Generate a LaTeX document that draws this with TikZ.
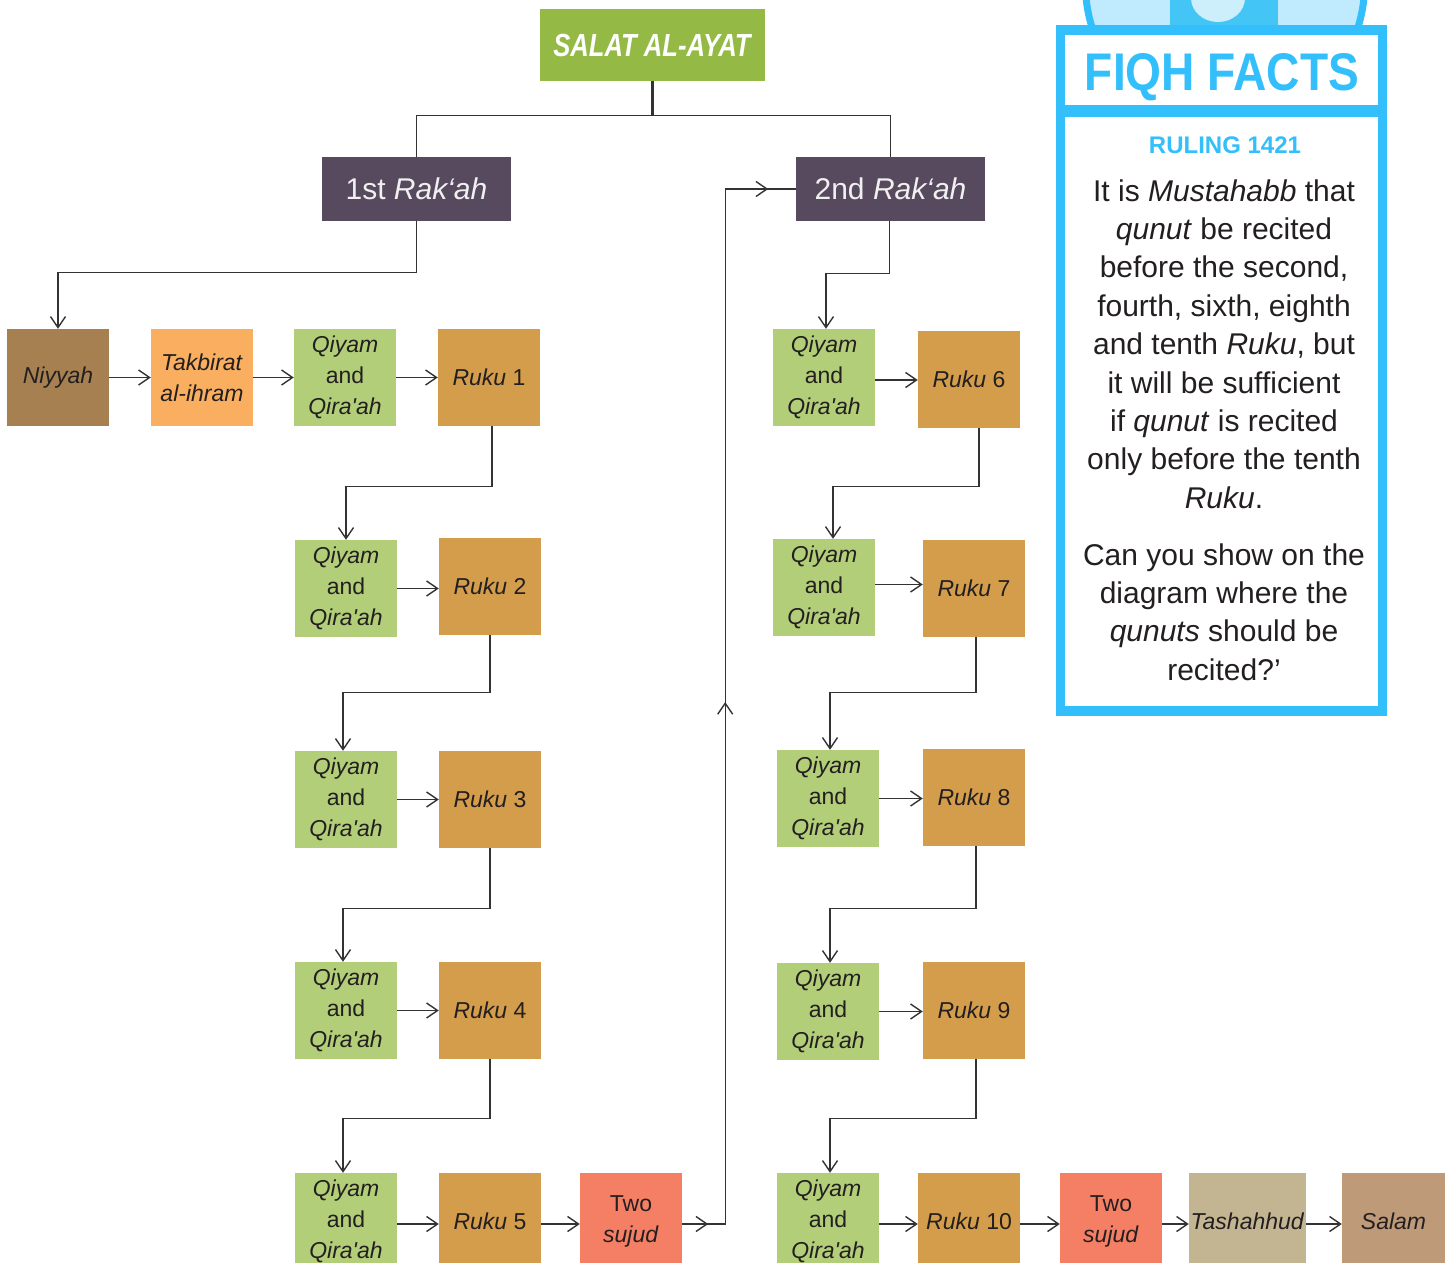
\documentclass[tikz,border=0pt]{standalone}
\usepackage{fontspec}
\setmainfont{Liberation Sans}
\usepackage{graphicx}
\usetikzlibrary{arrows.meta,decorations.markings,calc}
\definecolor{tgreen}{HTML}{94BA45}
\definecolor{rakc}{HTML}{574A5E}
\definecolor{cniy}{HTML}{A68050}
\definecolor{ctak}{HTML}{F9AF5F}
\definecolor{cqiy}{HTML}{B3CE78}
\definecolor{cruk}{HTML}{D49D4C}
\definecolor{csuj}{HTML}{F47F64}
\definecolor{ctas}{HTML}{C3B592}
\definecolor{csal}{HTML}{BF9A78}
\definecolor{fblue}{HTML}{33BFFB}
\definecolor{flight}{HTML}{C0EAFD}
\definecolor{fmid}{HTML}{43C6F5}
\definecolor{fblob}{HTML}{CDEFFC}
\definecolor{txt}{HTML}{231F20}
\definecolor{lc}{HTML}{333333}
\newcommand\boxfont{\fontsize{23}{31}\selectfont}
\newcommand\qtxt{\emph{Qiyam}\\and\\\emph{Qira\textquotesingle ah}}
\begin{document}
\begin{tikzpicture}[x=1pt,y=-1pt,
  box/.style={rectangle, inner sep=0pt, minimum width=102pt, minimum height=97pt,
    align=center, text=txt, font=\boxfont},
  rak/.style={rectangle, inner sep=0pt, minimum width=189pt, minimum height=64pt,
    fill=rakc, text=white!94!black, font=\fontsize{30}{36}\selectfont},
  conn/.style={draw=lc, line width=1.4pt},
  arr/.style={conn, -{Straight Barb[length=11pt,width=15pt]}},
  midarr/.style={conn, postaction={decorate}, decoration={markings,
     mark=at position 26pt with {\arrow{Straight Barb[length=11pt,width=15pt]}},
     mark=at position 565pt with {\arrow{Straight Barb[length=11pt,width=15pt]}},
     mark=at position 1121pt with {\arrow{Straight Barb[length=11pt,width=15pt]}}}},
  ftxt/.style={anchor=base, text=txt, font=\fontsize{30}{38.4}\selectfont, inner sep=0pt}
]
\useasboundingbox (0,0) rectangle (1454,1263);
\clip (0,0) rectangle (1454,1263);

% ---------- Fiqh facts panel ----------
\fill[flight] (1225,-15) circle (139.5);
\fill[fmid] (1170,-10) rectangle (1278,30);
\fill[fblob] (1218,-2) ellipse (27 and 24);
\draw[fblue, line width=7pt] (1225,-15) circle (139.5);
\fill[fblue] (1056,25) rectangle (1387,716);
\fill[white] (1065,35) rectangle (1378,706);
\fill[fblue] (1065,105) rectangle (1378,117);
\node[anchor=base, inner sep=0pt, text=fblue, font=\fontsize{53}{60}\selectfont\bfseries] (ff) at (1222,91) {\scalebox{0.87}[1]{FIQH FACTS}};
\node[anchor=base, inner sep=0pt, text=fblue, font=\fontsize{24}{28}\selectfont\bfseries] (rl) at (1225,153) {RULING 1421};
\foreach \yy/\tt [count=\i] in {
  201/{It is \emph{Mustahabb} that},
  239.4/{\emph{qunut} be recited},
  277.8/{before the second,},
  316.2/{fourth, sixth, eighth},
  354.6/{and tenth \emph{Ruku}, but},
  393/{it will be sufficient},
  431.4/{if \emph{qunut} is recited},
  469.8/{only before the tenth},
  508.2/{\emph{Ruku}.},
  565/{Can you show on the},
  603.4/{diagram where the},
  641.8/{\emph{qunuts} should be},
  680.2/{recited?’}}
  \node[ftxt] (fl\i) at (1224,\yy) {\tt};

% ---------- Title and Rak'ah ----------
\node[rectangle, inner sep=0pt, minimum width=225pt, minimum height=72pt, fill=tgreen,
  text=white, font=\fontsize{32}{36}\selectfont\bfseries\itshape] (title) at (652,45)
  {\scalebox{0.8}[1]{SALAT AL-AYAT}};
\node[rak] (rk1) at (416.5,189) {1st \emph{Rak‘ah}};
\node[rak] (rk2) at (890.5,189) {2nd \emph{Rak‘ah}};
\draw[draw=lc, line width=3pt] (title.south) -- ++(0,34) coordinate (tj);
\draw[conn] (rk1.north) |- (tj) -| (rk2.north);

% ---------- first rak'ah ----------
\node[box,fill=cniy] (niy) at (58,377.5) {\emph{Niyyah}};
\node[box,fill=ctak] (tak) at (202,377.5) {\emph{Takbirat}\\\emph{al-ihram}};
\node[box,fill=cqiy] (q1) at (345,377.5) {\qtxt};
\node[box,fill=cruk] (r1) at (489,377.5) {\emph{Ruku} 1};
\node[box,fill=cqiy] (q2) at (346,588.5) {\qtxt};
\node[box,fill=cruk] (r2) at (490,586.5) {\emph{Ruku} 2};
\node[box,fill=cqiy] (q3) at (346,799.5) {\qtxt};
\node[box,fill=cruk] (r3) at (490,799.5) {\emph{Ruku} 3};
\node[box,fill=cqiy] (q4) at (346,1010.5) {\qtxt};
\node[box,fill=cruk] (r4) at (490,1010.5) {\emph{Ruku} 4};
\node[box,fill=cqiy] (q5) at (346,1221.5) {\qtxt};
\node[box,fill=cruk] (r5) at (490,1221.5) {\emph{Ruku} 5};
\node[box,fill=csuj] (s1) at (631,1221.5) {Two\\\emph{sujud}};

\draw[arr] (rk1.south) -- ++(0,51) -| (niy.north);
\draw[arr] (niy.east) -- (niy.east -| tak.west);
\draw[arr] (tak.east) -- (tak.east -| q1.west);
\draw[arr] (q1.east) -- (q1.east -| r1.west);
\draw[arr] ([xshift=3pt]r1.south) -- ++(0,60) -| (q2.north);
\draw[arr] (q2.east) -- (q2.east -| r2.west);
\draw[arr] (r2.south) -- ++(0,57) -| ([xshift=-3pt]q3.north);
\draw[arr] (q3.east) -- (q3.east -| r3.west);
\draw[arr] (r3.south) -- ++(0,60) -| ([xshift=-3pt]q4.north);
\draw[arr] (q4.east) -- (q4.east -| r4.west);
\draw[arr] (r4.south) -- ++(0,59) -| ([xshift=-3pt]q5.north);
\draw[arr] ([yshift=-2.5pt]q5.east) -- ([yshift=-2.5pt]q5.east -| r5.west);
\draw[arr] ([yshift=-2.5pt]r5.east) -- ([yshift=-2.5pt]r5.east -| s1.west);
\draw[midarr] ([yshift=-2.5pt]s1.east) -- ++(43,0) |- (rk2.west);

% ---------- second rak'ah ----------
\node[box,fill=cqiy] (q6) at (824,377.5) {\qtxt};
\node[box,fill=cruk] (r6) at (969,379.5) {\emph{Ruku} 6};
\node[box,fill=cqiy] (q7) at (824,587.5) {\qtxt};
\node[box,fill=cruk] (r7) at (974,588.5) {\emph{Ruku} 7};
\node[box,fill=cqiy] (q8) at (828,798.5) {\qtxt};
\node[box,fill=cruk] (r8) at (974,797.5) {\emph{Ruku} 8};
\node[box,fill=cqiy] (q9) at (828,1011.5) {\qtxt};
\node[box,fill=cruk] (r9) at (974,1010.5) {\emph{Ruku} 9};
\node[box,fill=cqiy] (q10) at (828,1221.5) {\qtxt};
\node[box,fill=cruk] (r10) at (969,1221.5) {\emph{Ruku} 10};
\node[box,fill=csuj] (s2) at (1111,1221.5) {Two\\\emph{sujud}};
\node[box,fill=ctas,minimum width=117pt] (tas) at (1247.5,1221.5) {\emph{Tashahhud}};
\node[box,fill=csal,minimum width=103pt] (sal) at (1393.5,1221.5) {\emph{Salam}};

\draw[arr] ([xshift=-1pt]rk2.south) -- ++(0,52) -| ([xshift=2pt]q6.north);
\draw[arr] ([yshift=-2.5pt]q6.east) -- ([yshift=-2.5pt]q6.east -| r6.west);
\draw[arr] ([xshift=10pt]r6.south) -- ++(0,58) -| ([xshift=9pt]q7.north);
\draw[arr] ([yshift=3pt]q7.east) -- ([yshift=3pt]q7.east -| r7.west);
\draw[arr] ([xshift=2pt]r7.south) -- ++(0,55) -| ([xshift=2pt]q8.north);
\draw[arr] (q8.east) -- (q8.east -| r8.west);
\draw[arr] ([xshift=2pt]r8.south) -- ++(0,62) -| ([xshift=2pt]q9.north);
\draw[arr] (q9.east) -- (q9.east -| r9.west);
\draw[arr] ([xshift=2pt]r9.south) -- ++(0,59) -| ([xshift=2pt]q10.north);
\draw[arr] ([yshift=-2.5pt]q10.east) -- ([yshift=-2.5pt]q10.east -| r10.west);
\draw[arr] ([yshift=-2.5pt]r10.east) -- ([yshift=-2.5pt]r10.east -| s2.west);
\draw[arr] ([yshift=-2.5pt]s2.east) -- ([yshift=-2.5pt]s2.east -| tas.west);
\draw[arr] ([yshift=-2.5pt]tas.east) -- ([yshift=-2.5pt]tas.east -| sal.west);
\end{tikzpicture}
\end{document}
